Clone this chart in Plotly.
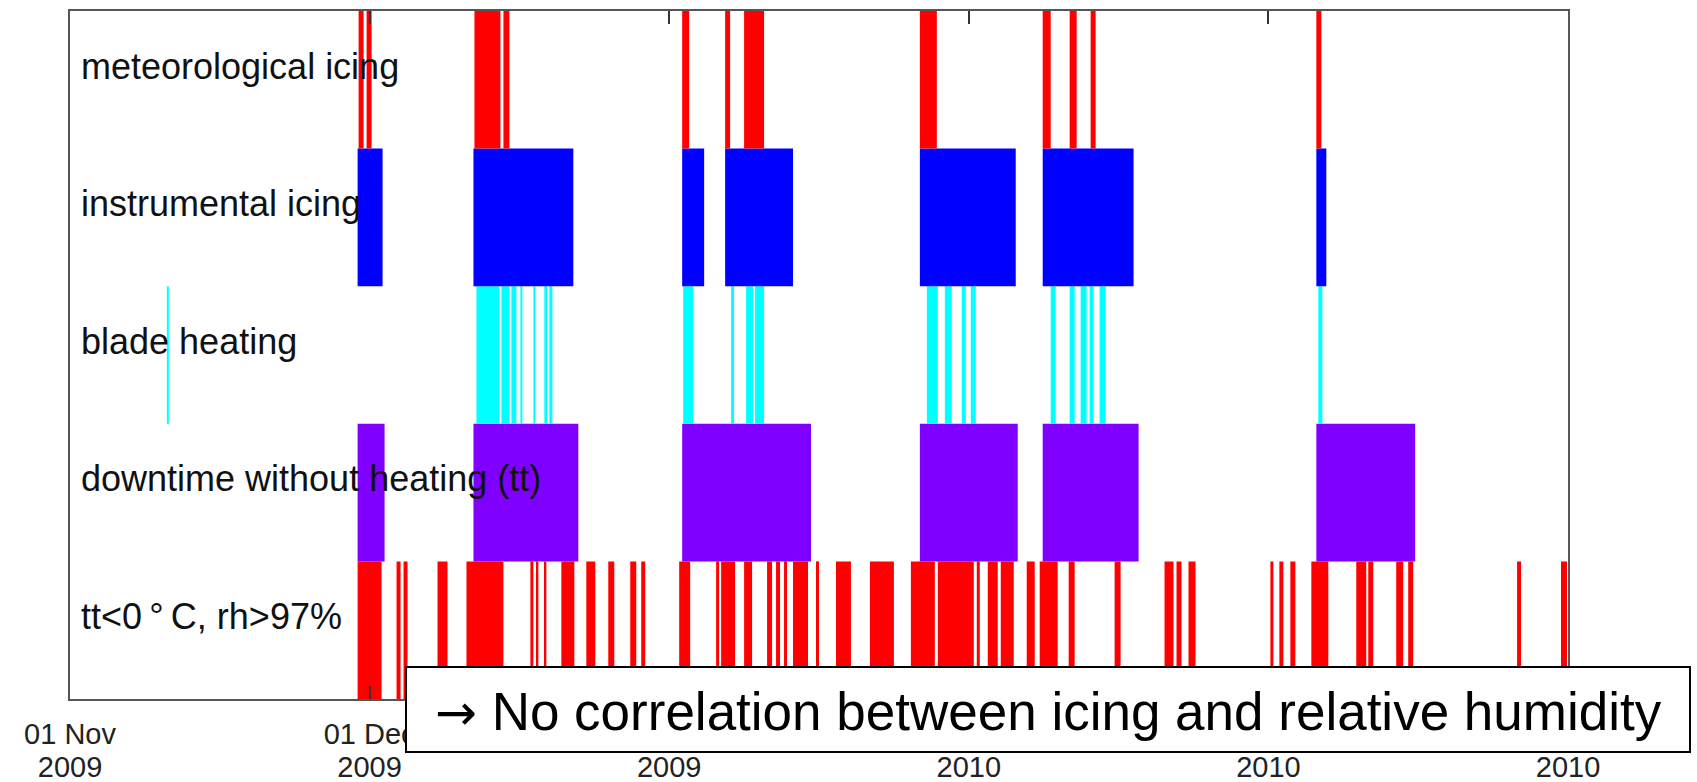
import plotly.graph_objects as go
import pandas as pd

# ---- data: intervals in days since 2009-11-01 00:00 ----
START = pd.Timestamp("2009-11-01")

row_labels = ["tt&lt;0\u2009°\u2009C, rh&gt;97%", "downtime without heating (tt)",
              "blade heating", "instrumental icing", "meteorological icing"]

met_start = [28.9, 29.7, 40.5, 43.4, 61.3, 65.6, 67.5, 85.1, 97.4, 100.1, 102.2, 124.8]
met_end   = [29.4, 30.2, 43.1, 44.0, 62.0, 66.1, 69.5, 86.8, 98.2, 100.8, 102.7, 125.3]

inst_start = [28.8, 40.4, 61.3, 65.6, 85.1, 97.4, 124.8]
inst_end   = [31.3, 50.4, 63.5, 72.4, 94.7, 106.5, 125.8]

blade_start = [9.7, 40.7, 43.2, 44.2, 45.1, 46.4, 47.5, 48.0, 61.4, 66.2, 67.7, 68.6,
               85.8, 87.6, 89.3, 90.2, 98.2, 100.1, 101.2, 102.1, 103.1, 125.0]
blade_end   = [9.9, 43.0, 44.0, 44.7, 45.3, 46.6, 47.8, 48.3, 62.4, 66.5, 68.4, 69.5,
               86.9, 88.3, 89.7, 90.7, 98.7, 100.6, 101.8, 102.5, 103.7, 125.4]

down_start = [28.8, 40.4, 61.3, 85.1, 97.4, 124.8]
down_end   = [31.5, 50.9, 74.2, 94.9, 107.0, 134.7]

tt_start = [28.8, 32.7, 33.4, 36.8, 39.7, 46.1, 46.7, 47.5, 49.2, 51.7, 53.9, 56.1,
            57.2, 61.0, 64.7, 65.2, 67.5, 69.8, 70.7, 71.5, 72.4, 74.7, 76.7, 80.1,
            84.2, 86.9, 90.8, 91.9, 93.2, 95.8, 97.1, 100.0, 104.6, 109.6, 110.8,
            112.0, 120.2, 121.1, 122.2, 124.3, 128.8, 130.0, 132.8, 134.0, 144.9, 149.3]
tt_end   = [31.2, 33.1, 33.8, 37.8, 43.4, 46.4, 46.9, 47.7, 50.5, 52.6, 54.5, 56.7,
            57.6, 62.1, 65.0, 66.6, 68.3, 70.3, 71.1, 71.8, 73.9, 75.0, 78.2, 82.5,
            86.6, 90.5, 91.1, 92.9, 94.5, 96.6, 98.9, 100.6, 105.2, 110.5, 111.3,
            112.7, 120.5, 121.5, 122.7, 126.0, 129.8, 130.5, 133.5, 134.5, 145.3, 149.9]

tick_days = [0, 30, 60, 90, 120, 150]
tick_day_month = ["01 Nov", "01 Dec", "", "", "", ""]   # the rest are hidden behind the note box
tick_year = ["2009", "2009", "2009", "2010", "2010", "2010"]

note_text = ("<span style=\"font-family:DejaVu Sans;font-size:50px\">\u2192</span>"
             " No correlation between icing and relative humidity")

series = [
    (tt_start, tt_end, 0, "#FF0000"),
    (down_start, down_end, 1, "#8000FF"),
    (blade_start, blade_end, 2, "#00FFFF"),
    (inst_start, inst_end, 3, "#0000FF"),
    (met_start, met_end, 4, "#FF0000"),
]

FONT = "Liberation Sans, Arial, sans-serif"
W, H = 1697, 782
L, R, T, B = 70, 129, 11, 83
PW, PH = W - L - R, H - T - B


def px_x(p):
    return (p - L) / PW


def px_y(p):
    return (H - B - p) / PH


fig = go.Figure()
for starts, ends, row, color in series:
    base = [(START + pd.Timedelta(days=s)).strftime("%Y-%m-%d %H:%M:%S") for s in starts]
    dur = [(e - s) * 86400000.0 for s, e in zip(starts, ends)]
    fig.add_trace(go.Bar(
        orientation="h",
        base=base,
        x=dur,
        y=[row + 0.5] * len(starts),
        width=1.0,
        marker=dict(color=color, line=dict(width=0)),
        hoverinfo="skip",
        showlegend=False,
    ))

# empty helper trace so the second (label) x axis is drawn
fig.add_trace(go.Scatter(x=[], y=[], xaxis="x2", yaxis="y", hoverinfo="skip", showlegend=False))

for i, lab in enumerate(row_labels):
    fig.add_annotation(
        xref="paper", yref="y", x=0, y=i + 0.5 + 0.10,
        xanchor="left", yanchor="middle", xshift=9,
        text=lab, showarrow=False,
        font=dict(family=FONT, size=36, color="#111111"),
    )

# note box
fig.add_shape(
    type="rect", xref="paper", yref="paper",
    x0=px_x(406), x1=px_x(1690), y0=px_y(752), y1=px_y(667),
    line=dict(color="black", width=2), fillcolor="white", layer="above",
)
fig.add_annotation(
    xref="paper", yref="paper",
    x=px_x(1048), y=px_y(712),
    xanchor="center", yanchor="middle",
    text=note_text, showarrow=False,
    font=dict(family=FONT, size=53, color="black"),
)

xrange = [START, START + pd.Timedelta(days=150)]
tickvals = [START + pd.Timedelta(days=d) for d in tick_days]

fig.update_layout(
    width=W, height=H,
    margin=dict(l=L, r=R, t=T, b=B, autoexpand=False),
    plot_bgcolor="white", paper_bgcolor="white",
    barmode="overlay",
    showlegend=False,
    xaxis=dict(
        type="date", range=xrange, automargin=False,
        tickvals=tickvals, ticktext=tick_year,
        ticks="inside", ticklen=13, tickwidth=2, tickcolor="#333333",
        showline=True, linewidth=2, linecolor="#555555", mirror="ticks",
        showgrid=False, zeroline=False,
        tickfont=dict(family=FONT, size=29, color="#222222"),
        ticklabelstandoff=41,
    ),
    xaxis2=dict(
        type="date", range=xrange, overlaying="x", anchor="y", side="bottom",
        automargin=False,
        tickvals=tickvals, ticktext=tick_day_month,
        ticks="", showline=False, showgrid=False, zeroline=False,
        tickfont=dict(family=FONT, size=29, color="#222222"),
        ticklabelstandoff=15,
    ),
    yaxis=dict(
        range=[0, 5], automargin=False,
        showticklabels=False, ticks="",
        showline=True, linewidth=2, linecolor="#555555", mirror=True,
        showgrid=False, zeroline=False,
    ),
)

fig.write_html("out.html")
